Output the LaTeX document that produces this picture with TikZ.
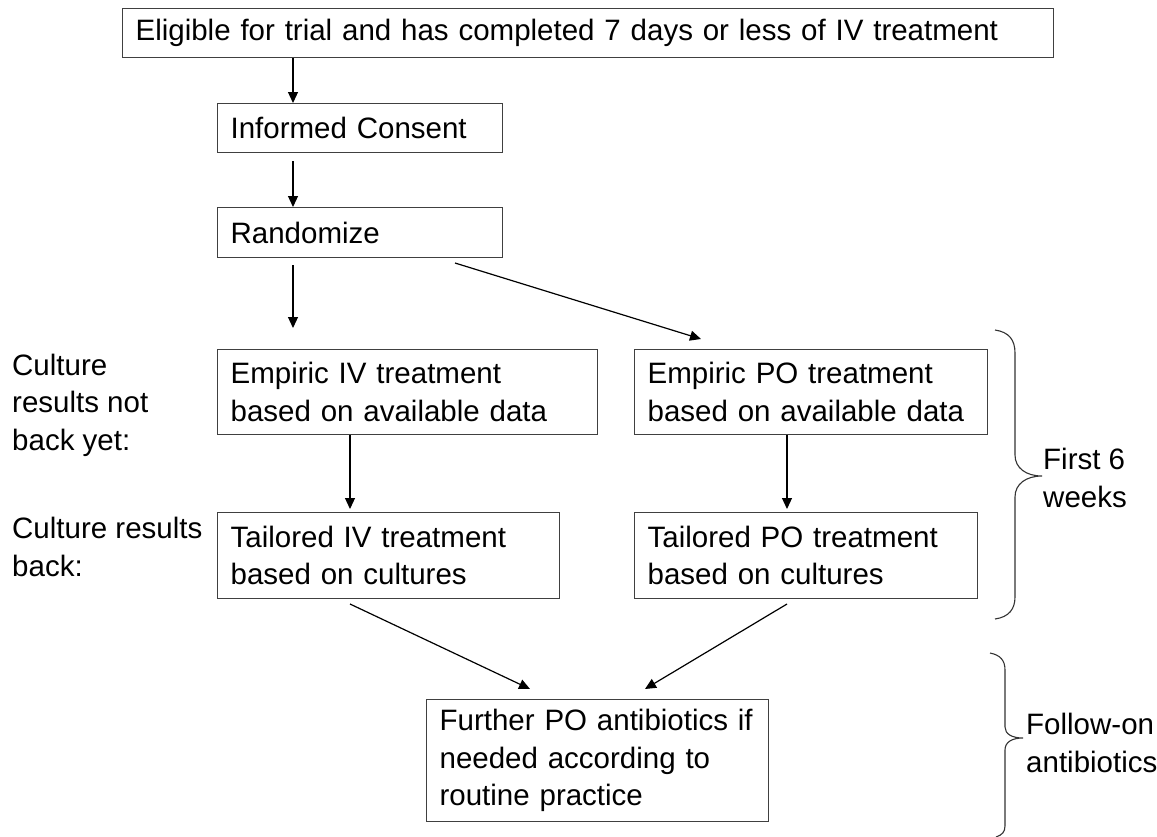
\documentclass[tikz,border=0pt]{standalone}
\usepackage{fontspec}
\setmainfont{Liberation Sans}
\usetikzlibrary{arrows.meta,calc}
\begin{document}
\begin{tikzpicture}[x=1pt,y=-1pt,
  txt/.style={font=\fontsize{29.5}{37.5}\selectfont},
  box/.style={txt,draw=black!75,line width=1.2pt,anchor=north west,align=left,
    inner xsep=13pt,inner ysep=0pt},
  lbl/.style={txt,anchor=base west,align=left,inner sep=0pt},
  arr/.style={draw=black,line width=1.2pt,-{Triangle[length=11pt,width=10pt]}},
  brace/.style={draw=black!80,line width=1.1pt}]
\useasboundingbox (0,0) rectangle (1157,836);
% boxes
\node[box,text width=905pt,minimum height=49pt] (elig) at (122,8)
  {Eligible for trial and has completed 7 days or less of IV treatment};
\node[box,text width=259pt,minimum height=49pt] (inf) at (217,103) {Informed Consent};
\node[box,text width=259pt,minimum height=50pt] (rand) at (217,207) {Randomize};
\node[box,text width=354pt,minimum height=85pt] (empiv) at (217,349)
  {Empiric IV treatment\\based on available data};
\node[box,text width=327pt,minimum height=85pt] (emppo) at (634,349)
  {Empiric PO treatment\\based on available data};
\node[box,text width=316pt,minimum height=86pt] (taiiv) at (217,512)
  {Tailored IV treatment\\based on cultures};
\node[box,text width=317pt,minimum height=86pt] (taipo) at (634,512)
  {Tailored PO treatment\\based on cultures};
\node[box,text width=316pt,minimum height=122pt] (fur) at (426,699)
  {Further PO antibiotics if\\needed according to\\routine practice};
% side labels (anchored at the baseline of their last line)
\node[lbl] (lab1) at (12,450) {Culture\\results not\\back yet:};
\node[lbl] (lab2) at (12,576) {Culture results\\back:};
\node[lbl] (lab3) at (1043,507) {First 6\\weeks};
\node[lbl] (lab4) at (1026,772) {Follow-on\\antibiotics};
% connector coordinates
\coordinate (xa) at (293,0);
\coordinate (r1s) at (293,265);
\coordinate (r1e) at (293,328);
\coordinate (r2s) at (455,263);
\coordinate (r2e) at (701,339);
\coordinate (xb) at (350,0);
\coordinate (xc) at (787,0);
\coordinate (t1s) at (350,604);
\coordinate (t1e) at (530,689);
\coordinate (t2s) at (787,604);
\coordinate (t2e) at (645,689);
% connectors
\draw[arr] (elig.south -| xa) -- (inf.north -| xa);
\draw[arr] ($(inf.south -| xa)+(0,8)$) -- (rand.north -| xa);
\draw[arr] (r1s) -- (r1e);
\draw[arr] (r2s) -- (r2e);
\draw[arr] (empiv.south -| xb) -- ($(taiiv.north -| xb)+(0,-3)$);
\draw[arr] (emppo.south -| xc) -- ($(taipo.north -| xc)+(0,-3)$);
\draw[arr] (t1s) -- (t1e);
\draw[arr] (t2s) -- (t2e);
% braces
\draw[brace] (995,330) .. controls (1009,332) and (1015,340) .. (1015,353)
  -- (1015,455) .. controls (1015,468) and (1026,476) .. (1042,476)
  .. controls (1026,476) and (1015,484) .. (1015,497)
  -- (1015,597) .. controls (1015,609) and (1009,617) .. (995,619);
\draw[brace] (990,653) .. controls (1000,655) and (1005,660) .. (1005,670)
  -- (1005,727) .. controls (1005,734) and (1012,738) .. (1023,738)
  .. controls (1012,738) and (1005,742) .. (1005,750)
  -- (1005,826) .. controls (1005,832) and (1002,835) .. (996,837);
\end{tikzpicture}
\end{document}
